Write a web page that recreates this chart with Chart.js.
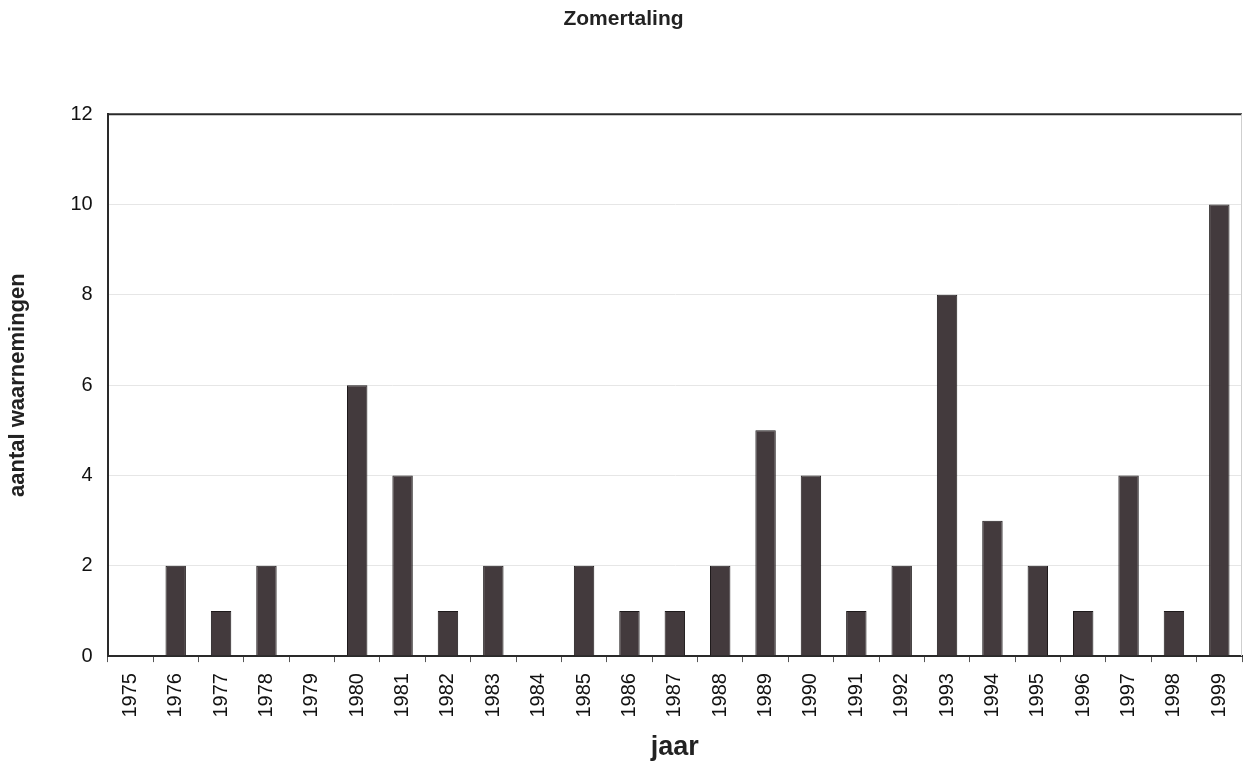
<!DOCTYPE html>
<html><head><meta charset="utf-8">
<script src="https://cdn.jsdelivr.net/npm/chart.js@4"></script>
<style>html,body{margin:0;padding:0;background:#fff}#w{width:1244px;height:761px}</style>
</head><body><div id="w"><canvas id="c"></canvas></div>
<script>
const years = ['1975','1976','1977','1978','1979','1980','1981','1982','1983','1984','1985','1986','1987','1988','1989','1990','1991','1992','1993','1994','1995','1996','1997','1998','1999'];
const counts = [0,2,1,2,0,6,4,1,2,0,2,1,1,2,5,4,1,2,8,3,2,1,4,1,10];
const yTicks = [0,2,4,6,8,10,12];

const frame = {
  id:'frame',
  afterDatasetsDraw(ch){
    const a=ch.chartArea, c=ch.ctx;
    c.save();
    c.strokeStyle='#2a2a2a'; c.lineWidth=2;
    c.beginPath(); c.moveTo(a.left,a.top); c.lineTo(a.right,a.top); c.stroke();
    c.strokeStyle='#cfcfcf'; c.lineWidth=1;
    c.beginPath(); c.moveTo(a.right-0.5,a.top); c.lineTo(a.right-0.5,a.bottom); c.stroke();
    c.restore();
  }
};

new Chart(document.getElementById('c'),{
  type:'bar',
  data:{labels:years,datasets:[{data:counts,backgroundColor:'#433a3d',borderColor:'#1e1a1b',borderWidth:1,barPercentage:0.45,categoryPercentage:1}]},
  plugins:[frame],
  options:{
    responsive:true,maintainAspectRatio:false,animation:false,
    layout:{padding:{left:5,right:2,top:0,bottom:-3}},
    plugins:{
      legend:{display:false},tooltip:{enabled:false},
      title:{display:true,text:'Zomertaling',color:'#222',font:{family:'Liberation Sans, Arial',size:21,weight:'bold'},padding:{top:7,bottom:82}}
    },
    scales:{
      x:{
        afterFit(s){s.paddingRight=0;s.paddingLeft=0;},
        grid:{drawOnChartArea:false,drawTicks:true,tickLength:6,color:'#555'},
        border:{color:'#2a2a2a',width:2},
        ticks:{color:'#111',font:{family:'Liberation Sans, Arial',size:20},maxRotation:90,minRotation:90,padding:11,autoSkip:false},
        title:{display:true,text:'jaar',color:'#222',font:{family:'Liberation Sans, Arial',size:27,weight:'bold'},padding:{top:3,bottom:0}}
      },
      y:{
        min:0,max:12,
        afterBuildTicks(s){s.ticks=yTicks.map(v=>({value:v}));},
        grid:{color:'#e6e6e6',drawTicks:false,lineWidth:1},
        border:{color:'#2a2a2a',width:2},
        ticks:{color:'#111',font:{family:'Liberation Sans, Arial',size:20},padding:15},
        title:{display:true,text:'aantal waarnemingen',color:'#222',font:{family:'Liberation Sans, Arial',size:22,weight:'bold'},padding:{top:0,bottom:24}}
      }
    }
  }
});
</script></body></html>
